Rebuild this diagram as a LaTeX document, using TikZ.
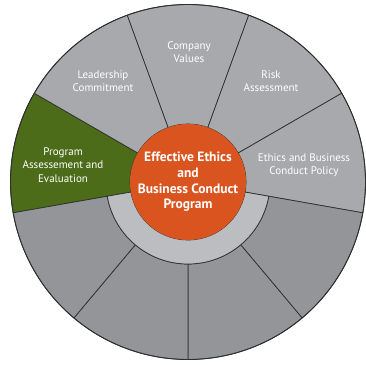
\documentclass[tikz,border=0pt]{standalone}
\usepackage{fontspec}
\setmainfont{PT Sans}
\definecolor{upgray}{HTML}{A7A9AC}
\definecolor{lowgray}{HTML}{939598}
\definecolor{ringgray}{HTML}{BCBDC0}
\definecolor{leafgreen}{HTML}{4D6C1A}
\definecolor{ethorange}{HTML}{D9541E}
\definecolor{edge}{HTML}{2E2E2E}
\begin{document}
\begin{tikzpicture}[x=1pt,y=1pt,
  segline/.style={draw=edge,line width=0.7pt,line join=round},
  lbl/.style={text=white,align=center,font=\fontsize{11}{13.3}\selectfont,inner sep=0pt},
  centerlbl/.style={text=white,align=center,font=\fontsize{13.5}{15.7}\selectfont\bfseries,inner sep=0pt}]
\useasboundingbox (0,0) rectangle (366,364);
\begin{scope}[shift={(188,182)}]
% upper segments (from orange circle to outer circle)
\foreach \a/\c in {150/leafgreen,110/upgray,70/upgray,30/upgray,-10/upgray}{
  \pgfmathsetmacro{\b}{\a+40}
  \filldraw[segline,fill=\c] (\a:58pt) -- (\a:177.5pt) arc[start angle=\a,end angle=\b,radius=177.5pt] -- (\b:58pt) arc[start angle=\b,end angle=\a,radius=58pt] -- cycle;
}
% lower segments (from ring to outer circle)
\foreach \a in {-50,-90,-130,-170}{
  \pgfmathsetmacro{\b}{\a+40}
  \filldraw[segline,fill=lowgray] (\a:82pt) -- (\a:177.5pt) arc[start angle=\a,end angle=\b,radius=177.5pt] -- (\b:82pt) arc[start angle=\b,end angle=\a,radius=82pt] -- cycle;
}
% inner ring
\filldraw[segline,fill=ringgray] (190:58pt) -- (190:82pt) arc[start angle=190,end angle=350,radius=82pt] -- (350:58pt) arc[start angle=350,end angle=190,radius=58pt] -- cycle;
% outer rim
\draw[draw=edge,line width=0.9pt] (0,0) circle[radius=177.5pt];
% centre
\fill[ethorange] (0,0) circle[radius=58pt];
\node[centerlbl] (center) at (0,0) {Effective Ethics\\and\\Business Conduct\\Program};
\end{scope}
\node[lbl] (values) at (189,312) {Company\\Values};
\node[lbl] (leader) at (103,283) {Leadership\\Commitment};
\node[lbl] (risk) at (271,283) {Risk\\Assessment};
\node[lbl] (policy) at (304,199) {Ethics and Business\\Conduct Policy};
\node[lbl] (program) at (63,199) {Program\\Assessement and\\Evaluation};
\end{tikzpicture}
\end{document}
